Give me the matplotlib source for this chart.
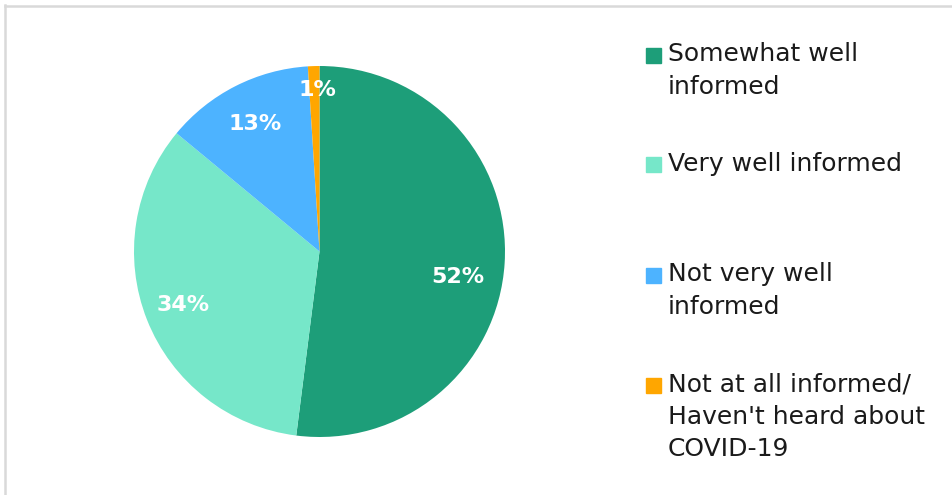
import numpy as np
import matplotlib.pyplot as plt
from matplotlib.patches import Rectangle
from matplotlib.lines import Line2D

categories = ['Somewhat well\ninformed', 'Very well informed',
              'Not very well\ninformed',
              "Not at all informed/\nHaven't heard about\nCOVID-19"]
values = [52, 34, 13, 1]
colors = ['#1D9E79', '#76E7C9', '#4DB3FF', '#FFA600']
label_dist = [0.76, 0.79, 0.77, 0.87]
label_shift = [-7, 0, 0, -1]  # degrees, nudges like Excel's best fit

plt.rcParams['font.family'] = ['DejaVu Sans']

fig = plt.figure(figsize=(9.53, 4.95), dpi=100)

# grey frame (left and top edges visible)
fig.add_artist(Line2D([5.5 / 953, 5.5 / 953], [0, 1 - 5 / 495], color='#D9D9D9', lw=1.8))
fig.add_artist(Line2D([5 / 953, 1], [1 - 6 / 495, 1 - 6 / 495], color='#D9D9D9', lw=1.8))

cx, cy, r = 319.5, 251.5, 185.5
ax = fig.add_axes([(cx - r) / 953, (495 - cy - r) / 495, 2 * r / 953, 2 * r / 495])
wedges, _ = ax.pie(values, colors=colors, startangle=90, counterclock=False,
                   radius=1.0, wedgeprops=dict(linewidth=0))
ax.set_xlim(-1, 1)
ax.set_ylim(-1, 1)
ax.set_aspect('auto')
ax.axis('off')

for w, v, d, s in zip(wedges, values, label_dist, label_shift):
    mid = np.deg2rad((w.theta1 + w.theta2) / 2 + s)
    ax.text(d * np.cos(mid), d * np.sin(mid), f'{v}%', color='white',
            fontsize=16, fontweight='bold', ha='center', va='center')

# legend
leg_x = 646 / 953
for i, (lab, col) in enumerate(zip(categories, colors)):
    y = 1 - (55 + i * 110) / 495
    fig.add_artist(Rectangle((leg_x, y - 7.5 / 495), 15 / 953, 15 / 495,
                             transform=fig.transFigure, color=col))
    fig.text(668 / 953, y + 13 / 495, lab, fontsize=18, color='#1A1A1A',
             ha='left', va='top', linespacing=1.45)

fig.savefig('out.png', dpi=100)
